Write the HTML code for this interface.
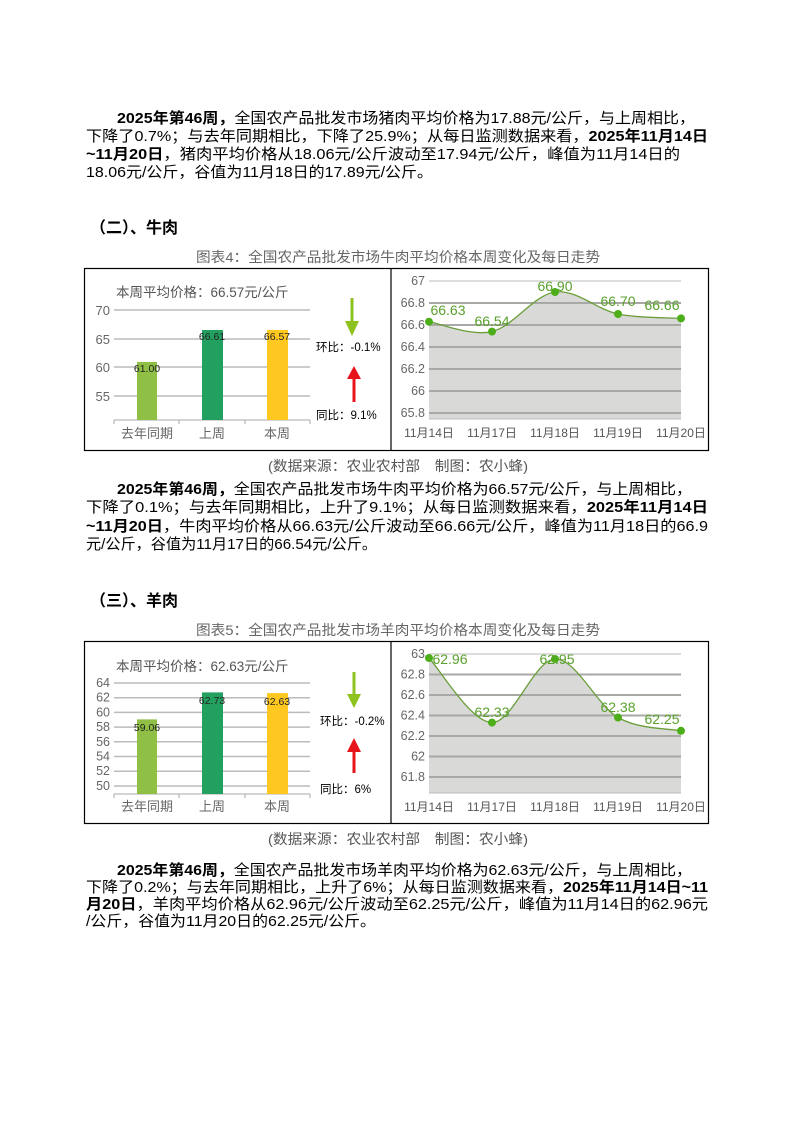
<!DOCTYPE html>
<html><head><meta charset="utf-8"><style>
html,body{margin:0;padding:0;background:#fff;}
svg{display:block;}
text{font-family:"Liberation Sans","Noto Sans CJK SC",sans-serif;}
</style></head><body>
<svg width="794" height="1123" viewBox="0 0 794 1123" xmlns="http://www.w3.org/2000/svg">
<rect width="794" height="1123" fill="#fff"/>

<!-- Para 1 -->
<g font-size="15" fill="#000">
<text x="117" y="123" textLength="578" lengthAdjust="spacingAndGlyphs"><tspan font-weight="bold">2025年第46周，</tspan>全国农产品批发市场猪肉平均价格为17.88元/公斤，与上周相比，</text>
<text x="86" y="141" textLength="622" lengthAdjust="spacingAndGlyphs">下降了0.7%；与去年同期相比，下降了25.9%；从每日监测数据来看，<tspan font-weight="bold">2025年11月14日</tspan></text>
<text x="86" y="159" textLength="594" lengthAdjust="spacingAndGlyphs"><tspan font-weight="bold">~11月20日</tspan>，猪肉平均价格从18.06元/公斤波动至17.94元/公斤，峰值为11月14日的</text>
<text x="86" y="177" textLength="347" lengthAdjust="spacingAndGlyphs">18.06元/公斤，谷值为11月18日的17.89元/公斤。</text>

<text x="90" y="233" font-weight="bold" font-size="16">（二）、牛肉</text>
</g>
<text x="196" y="262" font-size="14" fill="#666" textLength="404" lengthAdjust="spacingAndGlyphs">图表4：全国农产品批发市场牛肉平均价格本周变化及每日走势</text>

<!-- Chart 1 -->
<rect x="84.5" y="268.5" width="624" height="182" fill="none" stroke="#000" stroke-width="1.2"/>
<line x1="391" y1="268" x2="391" y2="451" stroke="#000" stroke-width="1.2"/>
<text x="116" y="297" font-size="13.5" fill="#555">本周平均价格：66.57元/公斤</text>
<g stroke="#bbb" stroke-width="1.5">
<line x1="114" y1="310" x2="310" y2="310"/><line x1="114" y1="339" x2="310" y2="339"/>
<line x1="114" y1="367" x2="310" y2="367"/><line x1="114" y1="396" x2="310" y2="396"/>
</g>
<g font-size="13" fill="#666" text-anchor="end">
<text x="110" y="315">70</text><text x="110" y="344">65</text><text x="110" y="372">60</text><text x="110" y="401">55</text>
</g>
<line x1="114" y1="420" x2="310" y2="420" stroke="#aaa"/>
<g stroke="#aaa"><line x1="114" y1="420" x2="114" y2="424"/><line x1="179" y1="420" x2="179" y2="424"/><line x1="245" y1="420" x2="245" y2="424"/><line x1="310" y1="420" x2="310" y2="424"/></g>
<rect x="137" y="362" width="20" height="58" fill="#8fbf45"/>
<rect x="202" y="330" width="21" height="90" fill="#22a060"/>
<rect x="267" y="330" width="21" height="90" fill="#ffc820"/>
<g font-size="10.5" fill="#222" text-anchor="middle">
<text x="147" y="372">61.00</text><text x="212" y="340">66.61</text><text x="277" y="340">66.57</text>
</g>
<g font-size="13" fill="#666" text-anchor="middle">
<text x="147" y="438">去年同期</text><text x="212" y="438">上周</text><text x="277" y="438">本周</text>
</g>
<line x1="352" y1="298" x2="352" y2="325" stroke="#8dc21f" stroke-width="3"/>
<polygon points="345,321 359,321 352,336" fill="#8dc21f"/>
<text x="316" y="351" font-size="11.5" fill="#000">环比：-0.1%</text>
<line x1="354" y1="402" x2="354" y2="376" stroke="#e8141c" stroke-width="3"/>
<polygon points="347,379 361,379 354,366" fill="#e8141c"/>
<text x="316" y="419" font-size="11.5" fill="#000">同比：9.1%</text>

<!-- Beef line -->
<path d="M429,321.7 C439.5,323.35 471,336.55 492,331.6 C513,326.65 534,294.9 555,292 C576,289.07 597,309.6 618,314 C639,318.4 670.5,317.67 681,318.4 L681,419 L429,419 Z" fill="#d9d9d7"/>
<g stroke="#a8a8a5" stroke-width="2">
<line x1="429" y1="281" x2="681" y2="281" stroke="#ddd"/>
<line x1="429" y1="303" x2="681" y2="303"/><line x1="429" y1="325" x2="681" y2="325"/>
<line x1="429" y1="347" x2="681" y2="347"/><line x1="429" y1="369" x2="681" y2="369"/>
<line x1="429" y1="391" x2="681" y2="391"/><line x1="429" y1="413" x2="681" y2="413"/>
</g>
<line x1="429" y1="419" x2="681" y2="419" stroke="#bbb"/>
<g font-size="12.5" fill="#666" text-anchor="end">
<text x="425" y="285">67</text><text x="425" y="307">66.8</text><text x="425" y="329">66.6</text><text x="425" y="351">66.4</text><text x="425" y="373">66.2</text><text x="425" y="395">66</text><text x="425" y="417">65.8</text>
</g>
<path d="M429,321.7 C439.5,323.35 471,336.55 492,331.6 C513,326.65 534,294.9 555,292 C576,289.07 597,309.6 618,314 C639,318.4 670.5,317.67 681,318.4" fill="none" stroke="#6a9e3a" stroke-width="1.3"/>
<g fill="#4caf1a"><circle cx="429" cy="321.7" r="4"/><circle cx="492" cy="331.6" r="4"/><circle cx="555" cy="292" r="4"/><circle cx="618" cy="314" r="4"/><circle cx="681" cy="318.4" r="4"/></g>
<g font-size="14" fill="#5aa02c" text-anchor="middle">
<text x="448" y="315">66.63</text><text x="492" y="326">66.54</text><text x="555" y="291">66.90</text><text x="618" y="306">66.70</text><text x="662" y="310">66.66</text>
</g>
<g font-size="12" fill="#555" text-anchor="middle">
<text x="429" y="437">11月14日</text><text x="492" y="437">11月17日</text><text x="555" y="437">11月18日</text><text x="618" y="437">11月19日</text><text x="681" y="437">11月20日</text>
</g>
<text x="268" y="471" font-size="14" fill="#555" textLength="260" lengthAdjust="spacingAndGlyphs">(数据来源：农业农村部　制图：农小蜂)</text>

<!-- Para 2 -->
<g font-size="15" fill="#000">
<text x="117" y="494" textLength="575" lengthAdjust="spacingAndGlyphs"><tspan font-weight="bold">2025年第46周，</tspan>全国农产品批发市场牛肉平均价格为66.57元/公斤，与上周相比，</text>
<text x="86" y="512" textLength="622" lengthAdjust="spacingAndGlyphs">下降了0.1%；与去年同期相比，上升了9.1%；从每日监测数据来看，<tspan font-weight="bold">2025年11月14日</tspan></text>
<text x="86" y="531" textLength="622" lengthAdjust="spacingAndGlyphs"><tspan font-weight="bold">~11月20日</tspan>，牛肉平均价格从66.63元/公斤波动至66.66元/公斤，峰值为11月18日的66.9</text>
<text x="86" y="549" textLength="291" lengthAdjust="spacingAndGlyphs">元/公斤，谷值为11月17日的66.54元/公斤。</text>

<text x="90" y="606" font-weight="bold" font-size="16">（三）、羊肉</text>
</g>
<text x="196" y="635" font-size="14" fill="#666" textLength="404" lengthAdjust="spacingAndGlyphs">图表5：全国农产品批发市场羊肉平均价格本周变化及每日走势</text>

<!-- Chart 2 -->
<rect x="84.5" y="641.5" width="624" height="182" fill="none" stroke="#000" stroke-width="1.2"/>
<line x1="391" y1="641" x2="391" y2="824" stroke="#000" stroke-width="1.2"/>
<text x="116" y="671" font-size="13.5" fill="#555">本周平均价格：62.63元/公斤</text>
<g stroke="#bbb" stroke-width="1.5">
<line x1="114" y1="683" x2="310" y2="683"/><line x1="114" y1="697.7" x2="310" y2="697.7"/>
<line x1="114" y1="712.4" x2="310" y2="712.4"/><line x1="114" y1="727.1" x2="310" y2="727.1"/>
<line x1="114" y1="741.8" x2="310" y2="741.8"/><line x1="114" y1="756.5" x2="310" y2="756.5"/>
<line x1="114" y1="771.2" x2="310" y2="771.2"/><line x1="114" y1="786" x2="310" y2="786"/>
</g>
<g font-size="12.5" fill="#666" text-anchor="end">
<text x="110" y="687">64</text><text x="110" y="701.7">62</text><text x="110" y="716.4">60</text><text x="110" y="731.1">58</text><text x="110" y="745.8">56</text><text x="110" y="760.5">54</text><text x="110" y="775.2">52</text><text x="110" y="790">50</text>
</g>
<line x1="114" y1="794" x2="310" y2="794" stroke="#aaa"/>
<g stroke="#aaa"><line x1="114" y1="794" x2="114" y2="798"/><line x1="179" y1="794" x2="179" y2="798"/><line x1="245" y1="794" x2="245" y2="798"/><line x1="310" y1="794" x2="310" y2="798"/></g>
<rect x="137" y="719.4" width="20" height="74.6" fill="#8fbf45"/>
<rect x="202" y="692.4" width="21" height="101.6" fill="#22a060"/>
<rect x="267" y="693.1" width="21" height="100.9" fill="#ffc820"/>
<g font-size="10.5" fill="#222" text-anchor="middle">
<text x="147" y="731">59.06</text><text x="212" y="704">62.73</text><text x="277" y="705">62.63</text>
</g>
<g font-size="13" fill="#666" text-anchor="middle">
<text x="147" y="811">去年同期</text><text x="212" y="811">上周</text><text x="277" y="811">本周</text>
</g>
<line x1="354" y1="672" x2="354" y2="697" stroke="#8dc21f" stroke-width="3"/>
<polygon points="347,694 361,694 354,708" fill="#8dc21f"/>
<text x="320" y="725" font-size="11.5" fill="#000">环比：-0.2%</text>
<line x1="354" y1="773" x2="354" y2="749" stroke="#e8141c" stroke-width="3"/>
<polygon points="347,752 361,752 354,738" fill="#e8141c"/>
<text x="320" y="793" font-size="11.5" fill="#000">同比：6%</text>

<!-- Mutton line -->
<path d="M429,658 C439.5,668.8 471,722.4 492,722.6 C513,722.8 534,659.85 555,659 C576,658.15 597,705.5 618,717.5 C639,729.5 670.5,728.6 681,730.8 L681,793 L429,793 Z" fill="#d9d9d7"/>
<g stroke="#a8a8a5" stroke-width="2">
<line x1="429" y1="654" x2="681" y2="654" stroke="#ddd"/>
<line x1="429" y1="674.5" x2="681" y2="674.5"/><line x1="429" y1="695" x2="681" y2="695"/>
<line x1="429" y1="715.5" x2="681" y2="715.5"/><line x1="429" y1="736" x2="681" y2="736"/>
<line x1="429" y1="756.5" x2="681" y2="756.5"/><line x1="429" y1="777" x2="681" y2="777"/>
</g>
<line x1="429" y1="793" x2="681" y2="793" stroke="#bbb"/>
<g font-size="12.5" fill="#666" text-anchor="end">
<text x="425" y="658">63</text><text x="425" y="678.5">62.8</text><text x="425" y="699">62.6</text><text x="425" y="719.5">62.4</text><text x="425" y="740">62.2</text><text x="425" y="760.5">62</text><text x="425" y="781">61.8</text>
</g>
<path d="M429,658 C439.5,668.8 471,722.4 492,722.6 C513,722.8 534,659.85 555,659 C576,658.15 597,705.5 618,717.5 C639,729.5 670.5,728.6 681,730.8" fill="none" stroke="#6a9e3a" stroke-width="1.3"/>
<g fill="#4caf1a"><circle cx="429" cy="658" r="4"/><circle cx="492" cy="722.6" r="4"/><circle cx="555" cy="659" r="4"/><circle cx="618" cy="717.5" r="4"/><circle cx="681" cy="730.8" r="4"/></g>
<g font-size="14" fill="#5aa02c" text-anchor="middle">
<text x="450" y="664">62.96</text><text x="492" y="717">62.33</text><text x="557" y="664">62.95</text><text x="618" y="712">62.38</text><text x="662" y="724">62.25</text>
</g>
<g font-size="12" fill="#555" text-anchor="middle">
<text x="429" y="811">11月14日</text><text x="492" y="811">11月17日</text><text x="555" y="811">11月18日</text><text x="618" y="811">11月19日</text><text x="681" y="811">11月20日</text>
</g>
<text x="268" y="844" font-size="14" fill="#555" textLength="260" lengthAdjust="spacingAndGlyphs">(数据来源：农业农村部　制图：农小蜂)</text>

<!-- Para 3 -->
<g font-size="15" fill="#000">
<text x="117" y="875" textLength="575" lengthAdjust="spacingAndGlyphs"><tspan font-weight="bold">2025年第46周，</tspan>全国农产品批发市场羊肉平均价格为62.63元/公斤，与上周相比，</text>
<text x="86" y="892" textLength="622" lengthAdjust="spacingAndGlyphs">下降了0.2%；与去年同期相比，上升了6%；从每日监测数据来看，<tspan font-weight="bold">2025年11月14日~11</tspan></text>
<text x="86" y="909" textLength="622" lengthAdjust="spacingAndGlyphs"><tspan font-weight="bold">月20日</tspan>，羊肉平均价格从62.96元/公斤波动至62.25元/公斤，峰值为11月14日的62.96元</text>
<text x="86" y="926" textLength="290" lengthAdjust="spacingAndGlyphs">/公斤，谷值为11月20日的62.25元/公斤。</text>
</g>
</svg>
</body></html>
